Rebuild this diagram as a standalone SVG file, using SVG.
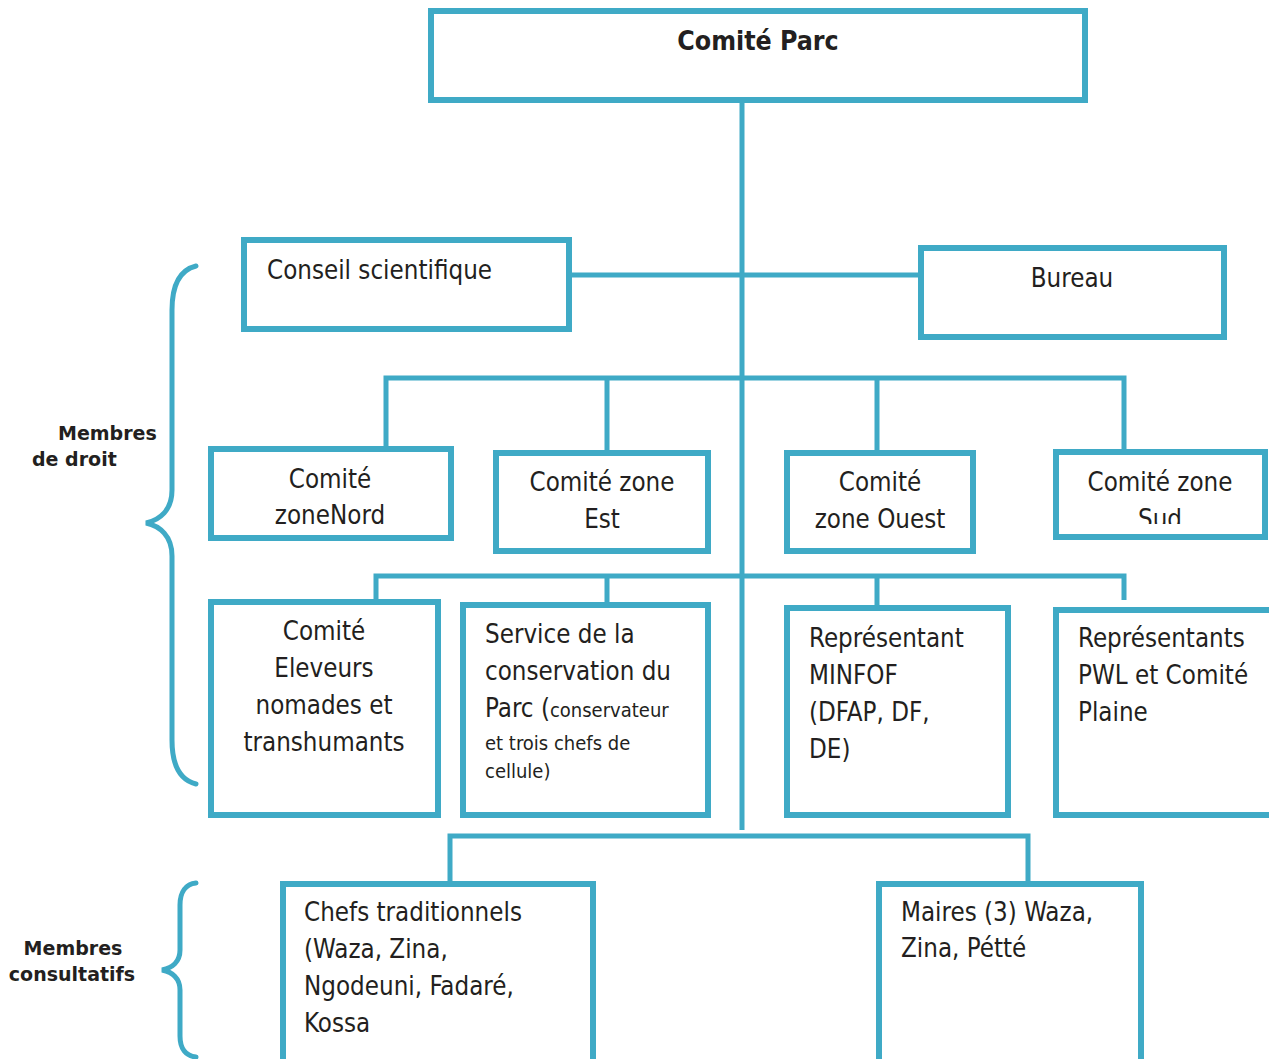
<svg xmlns="http://www.w3.org/2000/svg" width="1269" height="1059" viewBox="0 0 1269 1059">
<style>
.box{fill:#fff;stroke:#3FAAC6;stroke-width:6}
.ln{fill:none;stroke:#3FAAC6;stroke-width:5}
.br{fill:none;stroke:#3FAAC6;stroke-width:5;stroke-linecap:round}
text{font-family:"DejaVu Sans Condensed","DejaVu Sans","Liberation Sans",sans-serif;font-stretch:condensed;font-size:25.7px;fill:#231F20}
.c{text-anchor:middle}
.b{font-weight:bold;font-size:26.5px}
.lab{font-family:"DejaVu Sans","Liberation Sans",sans-serif;font-stretch:normal;font-weight:bold;font-size:19px}
.s{font-size:20px}
</style>
<defs>
<clipPath id="clipSud"><rect x="1055" y="451" width="214" height="73"/></clipPath>
</defs>
<g id="connectors">
<path class="ln" d="M742 100V830"/>
<path class="ln" d="M569 275H920"/>
<path class="ln" d="M386 450V378H1124V452M607 378V452M877 378V452"/>
<path class="ln" d="M376 600V576H1124V600M607 576V604M877 576V606"/>
<path class="ln" d="M450 882V836H1028V882"/>
</g>
<g id="comite-parc"><rect class="box" x="431" y="11" width="654" height="89"/><text class="c b" x="758" y="50">Comité Parc</text></g>
<g id="conseil"><rect class="box" x="244" y="240" width="325" height="89"/><text x="267" y="279">Conseil scientifique</text></g>
<g id="bureau"><rect class="box" x="921" y="248" width="303" height="89"/><text class="c" x="1072" y="287">Bureau</text></g>
<g id="zone-nord"><rect class="box" x="211" y="449" width="240" height="89"/><text class="c" x="330" y="488">Comité</text><text class="c" x="330" y="524">zoneNord</text></g>
<g id="zone-est"><rect class="box" x="496" y="453" width="212" height="98"/><text class="c" x="602" y="491">Comité zone</text><text class="c" x="602" y="528">Est</text></g>
<g id="zone-ouest"><rect class="box" x="787" y="453" width="186" height="98"/><text class="c" x="880" y="491">Comité</text><text class="c" x="880" y="528">zone Ouest</text></g>
<g id="zone-sud"><rect class="box" x="1056" y="452" width="209" height="85"/><text class="c" x="1160" y="491">Comité zone</text><text class="c" x="1160" y="528" clip-path="url(#clipSud)">Sud</text></g>
<g id="eleveurs"><rect class="box" x="211" y="602" width="227" height="213"/><text class="c" x="324" y="640">Comité</text><text class="c" x="324" y="677">Eleveurs</text><text class="c" x="324" y="714">nomades et</text><text class="c" x="324" y="751">transhumants</text></g>
<g id="service"><rect class="box" x="463" y="605" width="245" height="210"/><text x="485" y="643">Service de la</text><text x="485" y="680">conservation du</text><text x="485" y="717">Parc (<tspan class="s">conservateur</tspan></text><text class="s" x="485" y="750">et trois chefs de</text><text class="s" x="485" y="778">cellule)</text></g>
<g id="minfof"><rect class="box" x="787" y="608" width="221" height="207"/><text x="809" y="647">Représentant</text><text x="809" y="684">MINFOF</text><text x="809" y="721">(DFAP, DF,</text><text x="809" y="758">DE)</text></g>
<g id="pwl"><rect class="box" x="1056" y="610" width="230" height="205"/><text x="1078" y="647">Représentants</text><text x="1078" y="684">PWL et Comité</text><text x="1078" y="721">Plaine</text></g>
<g id="chefs"><rect class="box" x="283" y="884" width="310" height="190"/><text x="304" y="921">Chefs traditionnels</text><text x="304" y="958">(Waza, Zina,</text><text x="304" y="995">Ngodeuni, Fadaré,</text><text x="304" y="1032">Kossa</text></g>
<g id="maires"><rect class="box" x="879" y="884" width="262" height="190"/><text x="901" y="921">Maires (3) Waza,</text><text x="901" y="957">Zina, Pétté</text></g>
<g id="brace-droit"><path class="br" d="M196 266C180 270 172 285 172 310V490C172 510 160 520 146 523C160 526 172 536 172 556V740C172 765 180 780 196 784"/><text class="lab" x="58" y="440">Membres</text><text class="lab" x="32" y="466">de droit</text></g>
<g id="brace-consult"><path class="br" d="M196 883C186 884 180 892 180 905V950C180 962 172 968 162 970C172 972 180 978 180 990V1036C180 1049 186 1056 196 1057"/><text class="lab c" x="73" y="955">Membres</text><text class="lab c" x="72" y="981">consultatifs</text></g>
</svg>
